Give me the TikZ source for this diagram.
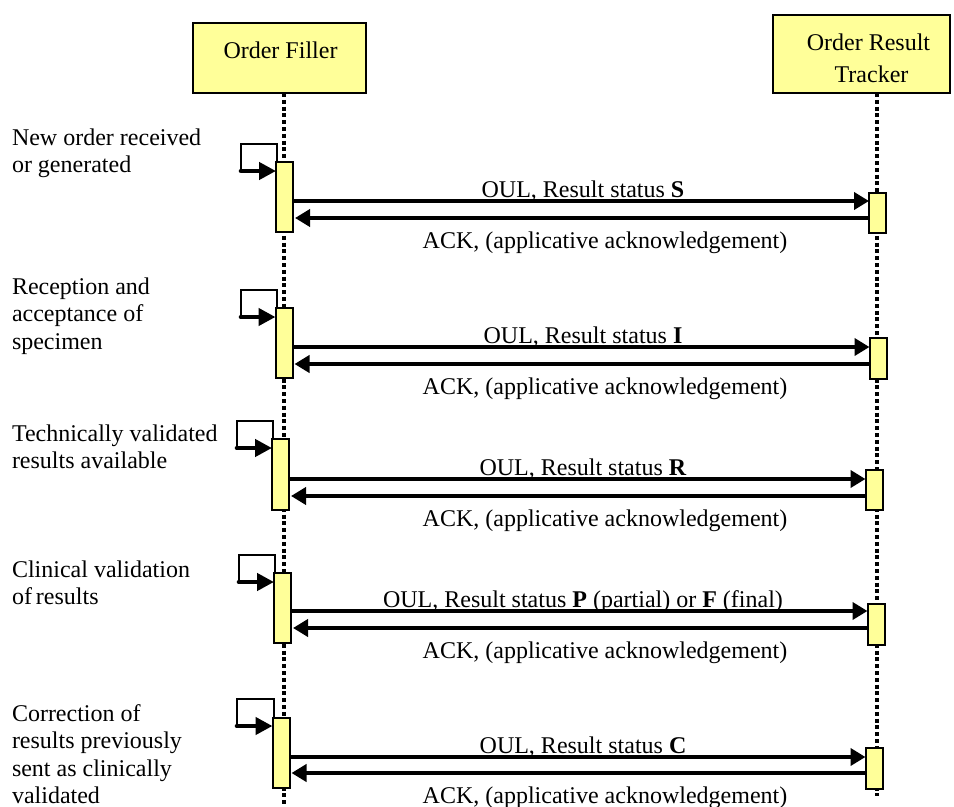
\documentclass[tikz,border=0pt]{standalone}
\usepackage{fontspec}
\setmainfont{Liberation Serif}
\usetikzlibrary{arrows.meta}
\definecolor{actfill}{HTML}{FFFF99}
\begin{document}
\begin{tikzpicture}[x=1bp,y=-1bp,
  every node/.style={font=\fontsize{24bp}{27.5bp}\selectfont, inner sep=0pt, outer sep=0pt},
  header/.style={draw, line width=2.2bp, fill=actfill},
  lifeline/.style={line width=4.4bp, dash pattern=on 4bp off 2.8bp},
  actbox/.style={draw, line width=2bp, fill=actfill, minimum width=17bp},
  msg/.style={line width=4.6bp, -{Triangle[length=15bp,width=17bp]}},
  loopline/.style={line width=2bp},
  selfmsg/.style={line width=4.6bp, line cap=round, -{Triangle[length=17bp,width=17bp]}},
  note/.style={anchor=north west, align=left}
]
\useasboundingbox (0,0) rectangle (954,807);

% actors
\node[header, minimum width=173bp, minimum height=70bp] (of) at (279.5,58) {};
\node[anchor=base] (oft) at (280.5,59) {Order Filler};
\node[header, minimum width=177bp, minimum height=78bp] (ort) at (861.5,54) {};
\node[anchor=base] (ortt1) at (868.5,51) {Order Result};
\node[anchor=base] (ortt2) at (871.5,83) {Tracker};

% lifelines
\coordinate (ofx) at (284,0);
\coordinate (ofend) at (284,807);
\coordinate (ortx) at (877,0);
\coordinate (ortend) at (877,796);
\draw[lifeline] (of.south -| ofx) -- (ofend);
\draw[lifeline] (ort.south -| ortx) -- (ortend);

% exchanges: activation of the filler, activation of the tracker,
% self-loop corner, trigger arrow, OUL and ACK levels, status text
\foreach \i/\ax/\at/\ab/\bx/\bt/\bb/\lx/\ly/\sy/\oy/\ky/\st in {
  1/284.5/161/233/877.5/192/234/241/144/171/201/218/{\textbf{S}},
  2/284/307/379/878/337/380/241/290/317/347/364/{\textbf{I}},
  3/280.5/438/511/874/469/511/237/421/448/479/496/{\textbf{R}},
  4/282.5/572/644/876/603/646/239/555/582/611/628/{\textbf{P} (partial) or \textbf{F} (final)},
  5/281/717/789/874/747/790/237/699/726/757/773/{\textbf{C}}}
{
  \node[actbox, minimum height={(\ab-\at-2)*1bp}] (a\i) at (\ax,{(\at+\ab)/2}) {};
  \node[actbox, minimum height={(\bb-\bt-2)*1bp}] (b\i) at (\bx,{(\bt+\bb)/2}) {};
  \coordinate (lt\i) at (\lx,\ly);
  \coordinate (ls\i) at (\lx,\sy);
  \draw[loopline] ([xshift=1bp]a\i.north west) |- (lt\i) -- (ls\i);
  \draw[selfmsg] (ls\i) -- (a\i.west |- ls\i);
  \draw[msg] (a\i.east |- 0,\oy) -- (b\i.west |- 0,\oy);
  \draw[msg] (b\i.west |- 0,\ky) -- ([xshift=2bp]a\i.east |- 0,\ky);
  \node[anchor=base] (o\i) at (583,{\oy-4}) {OUL, Result status \st};
  \node[anchor=base] (k\i) at (605,{\ky+30}) {ACK, (applicative acknowledgement)};
}

% events on the filler side
\node[note] (t1) at (12,128.5) {New order received\\or generated};
\node[note] (t2) at (12,277.5) {Reception and\\acceptance of\\specimen};
\node[note] (t3) at (12,424.5) {Technically validated\\results available};
\node[note] (t4) at (12,560.5) {Clinical validation\\of\,results};
\node[note] (t5) at (12,704.5) {Correction of\\results previously\\sent as clinically\\validated};
\end{tikzpicture}
\end{document}
